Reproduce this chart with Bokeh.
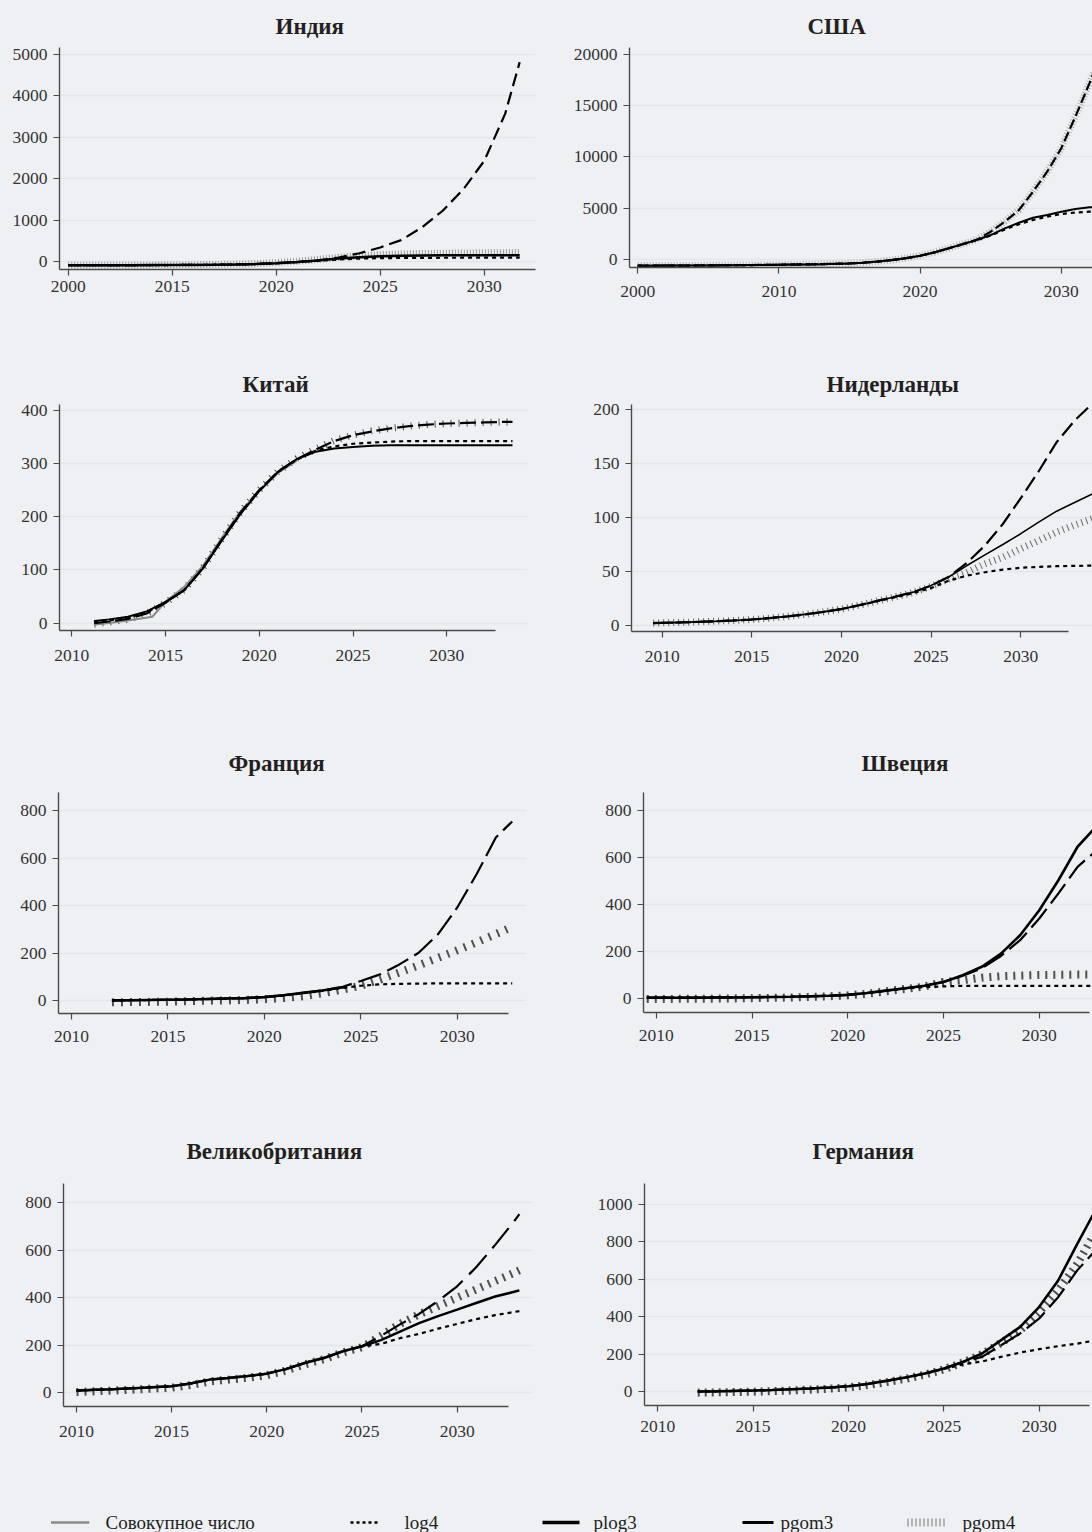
from bokeh.plotting import figure
from bokeh.layouts import column, row
from bokeh.models import FixedTicker, Range1d
from bokeh.embed import file_html
from bokeh.resources import INLINE
from bokeh.core.properties import value

# ---------------- data ----------------
LEGEND_LABELS = ["Совокупное число", "log4", "plog3", "pgom3", "pgom4"]

# India
IN_YEARS = [2010, 2011, 2012, 2013, 2014, 2015, 2016, 2017, 2018, 2019, 2020, 2021,
            2022, 2023, 2024, 2025, 2026, 2027, 2028, 2029, 2030, 2031, 2031.7]
IN_PGOM3 = [-90, -90, -89, -88, -87, -85, -82, -78, -72, -62, -40, -15,
            25, 97, 200, 339, 516, 823, 1226, 1750, 2435, 3565, 4815]
IN_PLOG3 = [-90, -90, -89, -88, -87, -85, -82, -78, -72, -62, -40, -12,
            25, 70, 105, 125, 138, 145, 149, 151, 152, 153, 153]
IN_LOG4 = [-90, -90, -89, -88, -87, -85, -82, -78, -72, -62, -40, -14,
           20, 50, 70, 80, 85, 88, 90, 91, 92, 92, 92]
IN_PGOM4 = [-85, -85, -84, -83, -82, -80, -77, -72, -65, -52, -28, 5,
            50, 100, 140, 165, 180, 192, 200, 206, 210, 214, 216]
IN_ACT_YEARS = [2010, 2011, 2012, 2013, 2014, 2015, 2016, 2017, 2018, 2019, 2020, 2021]
IN_ACTUAL = [-90, -90, -89, -88, -87, -85, -82, -78, -72, -62, -40, -15]
IN_XTICKS = [2010, 2015, 2020, 2025, 2030]
IN_XLABELS = ["2000", "2015", "2020", "2025", "2030"]
IN_YTICKS = [0, 1000, 2000, 3000, 4000, 5000]

# USA
US_YEARS = [2000, 2001, 2002, 2003, 2004, 2005, 2006, 2007, 2008, 2009, 2010, 2011,
            2012, 2013, 2014, 2015, 2016, 2017, 2018, 2019, 2020, 2021, 2022, 2023,
            2024, 2025, 2026, 2027, 2028, 2029, 2030, 2031, 2032, 2032.3]
US_PGOM3 = [-650, -645, -640, -635, -630, -620, -610, -600, -585, -570, -556, -540,
            -520, -495, -465, -425, -350, -240, -98, 90, 327, 650, 1046, 1460,
            1880, 2680, 3660, 4804, 6601, 8562, 10850, 13954, 17222, 18300]
US_PGOM4 = [-640, -636, -632, -627, -621, -612, -602, -592, -578, -563, -549, -533,
            -513, -488, -458, -418, -343, -233, -90, 98, 335, 660, 1056, 1470,
            1890, 2690, 3670, 4815, 6610, 8570, 10860, 13960, 17230, 18300]
US_PLOG3 = [-650, -645, -640, -635, -630, -620, -610, -600, -585, -570, -556, -540,
            -520, -495, -465, -425, -350, -240, -98, 90, 327, 650, 1046, 1450,
            1863, 2353, 3007, 3562, 4052, 4314, 4641, 4902, 5065, 5100]
US_LOG4 = [-650, -645, -640, -635, -630, -620, -610, -600, -585, -570, -556, -540,
           -520, -495, -465, -425, -350, -240, -98, 90, 327, 650, 1040, 1440,
           1840, 2300, 2900, 3420, 3824, 4150, 4412, 4560, 4640, 4660]
US_ACT_YEARS = [2000, 2001, 2002, 2003, 2004, 2005, 2006, 2007, 2008, 2009, 2010, 2011,
                2012, 2013, 2014, 2015, 2016, 2017, 2018, 2019, 2020, 2021, 2022]
US_ACTUAL = [-650, -645, -640, -635, -630, -620, -610, -600, -585, -570, -556, -540,
             -520, -495, -465, -425, -350, -240, -98, 90, 327, 650, 1046]
US_XTICKS = [2000, 2010, 2020, 2030]
US_YTICKS = [0, 5000, 10000, 15000, 20000]

# China
CN_YEARS = [2011.2, 2012, 2013, 2014, 2015, 2016, 2017, 2018, 2019, 2020, 2021, 2022,
            2023, 2024, 2025, 2026, 2027, 2028, 2029, 2030, 2031, 2032, 2033, 2033.5]
CN_PLOG3 = [4, 7, 12, 22, 40, 62, 103, 155, 205, 248, 284, 308,
            322, 328, 331, 333, 334, 334, 334, 334, 334, 334, 334, 334]
CN_LOG4 = [2, 5, 10, 20, 39, 62, 104, 156, 206, 249, 284, 307,
           324, 332, 337, 339, 341, 342, 342, 342, 342, 342, 342, 342]
CN_PGOM3 = [0, 3, 8, 18, 38, 62, 103, 157, 208, 250, 285, 308,
            326, 342, 353, 360, 366, 370, 373, 375, 376, 377, 378, 378]
CN_PGOM4 = [-2, 2, 7, 17, 38, 63, 104, 158, 209, 250, 285, 309,
            327, 343, 353, 361, 366, 370, 373, 375, 376, 377, 378, 378]
CN_ACT_YEARS = [2011.2, 2012, 2013, 2014.3, 2015, 2016, 2017, 2018, 2019, 2020, 2021, 2022]
CN_ACTUAL = [-3, 0, 5, 12, 40, 68, 108, 160, 210, 248, 282, 305]
CN_XTICKS = [2010, 2015, 2020, 2025, 2030]
CN_YTICKS = [0, 100, 200, 300, 400]

# Netherlands
NL_YEARS = [2009.5, 2010, 2011, 2012, 2013, 2014, 2015, 2016, 2017, 2018, 2019, 2020,
            2021, 2022, 2023, 2024, 2025, 2026, 2027, 2028, 2029, 2030, 2031, 2032,
            2033, 2034]
NL_PGOM3 = [2, 2.2, 2.6, 3.1, 3.7, 4.4, 5.3, 6.6, 8.2, 10.1, 12.4, 15,
            18.6, 22.6, 26.5, 30.7, 36.8, 45, 58, 74, 94, 118, 143, 170, 190, 206]
NL_PLOG3 = [2, 2.2, 2.6, 3.1, 3.7, 4.4, 5.3, 6.6, 8.2, 10.1, 12.4, 15,
            18.6, 22.6, 26.5, 30.7, 36.8, 45, 55.4, 65.3, 75, 85, 95.7, 105.9, 114, 122]
NL_PGOM4 = [2, 2.2, 2.6, 3.1, 3.7, 4.4, 5.3, 6.6, 8.2, 10.1, 12.4, 15,
            18.6, 22.5, 26.3, 30.4, 36, 43, 49, 57, 63, 71, 78.6, 86.4, 93, 99]
NL_LOG4 = [2, 2.2, 2.6, 3.1, 3.7, 4.4, 5.3, 6.6, 8.2, 10.1, 12.4, 15,
           18.5, 22.3, 26, 29.8, 34.5, 41.5, 46, 49.2, 51.7, 53.3, 54.2, 54.8, 55.1, 55.4]
NL_ACT_YEARS = [2009.5, 2010, 2011, 2012, 2013, 2014, 2015, 2016, 2017, 2018, 2019, 2020, 2021]
NL_ACTUAL = [2, 2.2, 2.6, 3.1, 3.7, 4.4, 5.3, 6.6, 8.2, 10.1, 12.4, 15, 18.6]
NL_XTICKS = [2010, 2015, 2020, 2025, 2030]
NL_YTICKS = [0, 50, 100, 150, 200]

# France
FR_YEARS = [2012.1, 2013, 2014, 2015, 2016, 2017, 2018, 2019, 2020, 2021, 2022,
            2023, 2024, 2025, 2026, 2027, 2028, 2029, 2030, 2031, 2032, 2032.85]
FR_PGOM3 = [0, 1, 2, 3, 4, 6, 8, 10, 14, 22, 32,
            42, 56, 82, 110, 152, 201, 279, 392, 532, 687, 755]
FR_LOG4 = [0, 1, 2, 3, 4, 6, 8, 10, 14, 21, 30,
           40, 52, 62, 68, 70, 71, 72, 72, 72, 72, 72]
FR_PGOM4 = [-8, -7, -6, -5, -3, -1, 0, 2, 5, 10, 18,
            30, 45, 62, 88, 118, 148, 180, 212, 245, 280, 310]
FR_PLOG3_YEARS = [2012.1, 2013, 2014, 2015, 2016, 2017, 2018, 2019, 2020, 2021, 2022,
                  2023, 2024, 2024.2]
FR_PLOG3 = [0, 1, 2, 3, 4, 6, 8, 10, 14, 22, 32, 42, 55, 57]
FR_ACT_YEARS = [2012.1, 2013, 2014, 2015, 2016, 2017, 2018, 2019, 2020, 2021, 2022]
FR_ACTUAL = [0, 1, 2, 3, 4, 6, 8, 10, 14, 22, 32]
FR_XTICKS = [2010, 2015, 2020, 2025, 2030]
FR_YTICKS = [0, 200, 400, 600, 800]

# Sweden
SE_YEARS = [2009.5, 2010, 2011, 2012, 2013, 2014, 2015, 2016, 2017, 2018, 2019, 2020,
            2021, 2022, 2023, 2024, 2025, 2026, 2027, 2028, 2029, 2030, 2031, 2032, 2032.8]
SE_PLOG3 = [5, 5, 5, 5, 6, 6, 7, 8, 9, 11, 13, 17,
            25, 35, 45, 56, 72, 100, 136, 192, 270, 376, 503, 645, 715]
SE_PGOM3 = [5, 5, 5, 5, 6, 6, 7, 8, 9, 11, 13, 17,
            25, 35, 45, 56, 72, 98, 130, 182, 249, 341, 447, 560, 616]
SE_PGOM4 = [0, 0, 0, 1, 1, 2, 3, 4, 6, 8, 11, 15,
            22, 32, 42, 52, 72, 79, 90, 96, 99, 101, 102, 103, 103]
SE_LOG4 = [5, 5, 5, 5, 6, 6, 7, 8, 9, 11, 13, 17,
           25, 35, 44, 50, 53, 55, 55, 55, 55, 55, 55, 55, 55]
SE_ACT_YEARS = [2009.5, 2010, 2011, 2012, 2013, 2014, 2015, 2016, 2017, 2018, 2019,
                2020, 2021, 2022]
SE_ACTUAL = [5, 5, 5, 5, 6, 6, 7, 8, 9, 11, 13, 17, 25, 35]
SE_XTICKS = [2010, 2015, 2020, 2025, 2030]
SE_YTICKS = [0, 200, 400, 600, 800]

# United Kingdom
UK_YEARS = [2010, 2011, 2012, 2013, 2014, 2015, 2016, 2017, 2018, 2019, 2020, 2021,
            2022, 2023, 2024, 2025, 2026, 2027, 2028, 2029, 2030, 2031, 2032, 2033, 2033.27]
UK_PGOM3 = [10, 13, 16, 20, 24, 28, 40, 56, 63, 71, 81, 100,
            126, 147, 175, 196, 240, 288, 332, 386, 448, 528, 622, 722, 751]
UK_PLOG3 = [10, 13, 16, 20, 24, 28, 40, 56, 63, 71, 81, 100,
            126, 147, 175, 196, 222, 258, 293, 323, 350, 378, 405, 425, 431]
UK_LOG4 = [10, 13, 16, 20, 24, 28, 40, 56, 63, 71, 81, 100,
           126, 147, 175, 196, 206, 230, 248, 270, 290, 310, 327, 340, 344]
UK_PGOM4 = [4, 7, 10, 14, 18, 22, 33, 48, 56, 64, 74, 94,
            120, 142, 170, 192, 240, 290, 330, 365, 400, 435, 470, 505, 515]
UK_ACT_YEARS = [2010, 2011, 2012, 2013, 2014, 2015, 2016, 2017, 2018, 2019, 2020, 2021,
                2022, 2023]
UK_ACTUAL = [10, 13, 16, 20, 24, 28, 40, 56, 63, 71, 81, 100, 128, 150]
UK_XTICKS = [2010, 2015, 2020, 2025, 2030]
UK_YTICKS = [0, 200, 400, 600, 800]

# Germany
DE_YEARS = [2012.1, 2013, 2014, 2015, 2016, 2017, 2018, 2019, 2020, 2021, 2022,
            2023, 2024, 2025, 2026, 2027, 2028, 2029, 2030, 2031, 2032, 2032.8]
DE_PLOG3 = [0, 1, 3, 5, 8, 12, 16, 21, 28, 40, 57,
            75, 96, 123, 158, 203, 274, 345, 452, 594, 790, 941]
DE_PGOM4 = [-6, -5, -3, -1, 2, 6, 10, 15, 22, 34, 50,
            68, 90, 118, 155, 199, 260, 327, 425, 541, 683, 826]
DE_PGOM3 = [0, 1, 3, 5, 8, 12, 16, 21, 28, 40, 57,
            75, 96, 123, 158, 185, 247, 310, 390, 505, 648, 737]
DE_LOG4 = [0, 1, 3, 5, 8, 12, 16, 21, 28, 40, 57,
           75, 95, 120, 145, 160, 185, 208, 226, 242, 256, 270]
DE_ACT_YEARS = [2012.1, 2013, 2014, 2015, 2016, 2017, 2018, 2019, 2020, 2021, 2022]
DE_ACTUAL = [0, 1, 3, 5, 8, 12, 16, 21, 28, 42, 60]
DE_XTICKS = [2010, 2015, 2020, 2025, 2030]
DE_YTICKS = [0, 200, 400, 600, 800, 1000]

# ---------------- style ----------------
BG = "#eef0f4"
GRID = "#e0e8e9"
FONT = "Liberation Serif"
INK = "#231f20"
AXIS = "#4a4a4a"
GRAY = "#8a8a8a"
DARK_HATCH = "#505050"


def panel(title, box, frame, xr, yr, xaxis_end, xticks, yticks, tleft, tstand, xstand,
          years, log4, plog3, pgom3, pgom4, act_years, actual,
          plog3_years=None, hatch_dash="1 4", hatch_color="#666666", hatch_width=7,
          dash="20 7", solid_width=2, xlabels=None):
    cl, cr, rt, rb = box
    L, R, T, B = frame
    mbl = round(L - cl)
    fw = round(R - L)
    mbr = (cr - cl) - mbl - fw
    mbt = round(T - rt)
    fh = round(B - T)
    mbb = (rb - rt) - mbt - fh
    p = figure(frame_width=fw, frame_height=fh,
               x_range=Range1d(*xr), y_range=Range1d(*yr),
               output_backend="svg", toolbar_location=None,
               min_border_left=mbl, min_border_right=mbr,
               min_border_top=mbt, min_border_bottom=mbb,
               background_fill_color=BG, border_fill_color=BG,
               outline_line_color=None)
    p.title.text = title
    p.title.text_font = FONT
    p.title.text_font_style = "bold"
    p.title.text_font_size = "23px"
    p.title.text_color = INK
    p.title.align = "left"
    p.title.offset = round(tleft - L)
    p.title.standoff = tstand

    for ax in (p.xaxis[0], p.yaxis[0]):
        ax.major_label_text_font = FONT
        ax.major_label_text_font_size = "17.5px"
        ax.major_label_text_color = "#333333"
        ax.minor_tick_line_color = None
        ax.major_tick_out = 6
        ax.major_tick_in = 0
        ax.axis_line_color = AXIS
        ax.axis_line_width = 1.4
        ax.major_tick_line_color = AXIS
        ax.major_tick_line_width = 1.2
    p.xaxis.ticker = FixedTicker(ticks=xticks)
    p.yaxis.ticker = FixedTicker(ticks=yticks)
    p.xaxis.bounds = (xr[0], xaxis_end)
    p.xaxis.major_label_standoff = xstand
    p.yaxis.major_label_standoff = 6
    if xlabels is not None:
        p.xaxis.major_label_overrides = {t: s for t, s in zip(xticks, xlabels)}
    p.xgrid.visible = False
    p.ygrid.grid_line_color = GRID
    p.ygrid.grid_line_width = 1.5

    p.line(years, pgom4, line_color=hatch_color, line_width=hatch_width, line_dash=hatch_dash)
    p.line(act_years, actual, line_color=GRAY, line_width=2)
    p.line(years, log4, line_color="black", line_width=2.2, line_dash="4 4")
    p.line(plog3_years if plog3_years is not None else years, plog3,
           line_color="black", line_width=solid_width)
    p.line(years, pgom3, line_color="black", line_width=2.2, line_dash=dash)
    return p


LEFT = (0, 546)
RIGHT = (546, 1092)
R1, R2, R3, R4 = (0, 350), (350, 725), (725, 1110), (1110, 1478)

p_in = panel("Индия", LEFT + R1, (59.2, 535, 47, 268.7), (2009.58, 2032.46), (-193.5, 5169),
             2032.46, IN_XTICKS, IN_YTICKS, 275, 18, 5,
             IN_YEARS, IN_LOG4, IN_PLOG3, IN_PGOM3, IN_PGOM4, IN_ACT_YEARS, IN_ACTUAL,
             hatch_dash="1 2", hatch_color="#9a9a9a", dash="13 6", solid_width=2.5,
             xlabels=IN_XLABELS)
p_us = panel("США", RIGHT + R1, (629, 1092, 46, 265.7), (1999.42, 2032.21), (-824, 20716),
             2032.21, US_XTICKS, US_YTICKS, 807, 18, 12,
             US_YEARS, US_LOG4, US_PLOG3, US_PGOM3, US_PGOM4, US_ACT_YEARS, US_ACTUAL,
             hatch_dash="1 2", hatch_color="#b0b0b0", dash="10 4")
p_cn = panel("Китай", LEFT + R2, (59.2, 527.5, 404.3, 630.7), (2009.35, 2034.3), (-13.9, 410.7),
             2032.57, CN_XTICKS, CN_YTICKS, 242, 16, 13,
             CN_YEARS, CN_LOG4, CN_PLOG3, CN_PGOM3, CN_PGOM4, CN_ACT_YEARS, CN_ACTUAL,
             hatch_dash="1 7", hatch_color=DARK_HATCH, dash="16 5")
p_nl = panel("Нидерланды", RIGHT + R2, (631.3, 1092, 402.3, 629.3), (2008.29, 2034.0), (-5.85, 205),
             2032.68, NL_XTICKS, NL_YTICKS, 826, 16, 13,
             NL_YEARS, NL_LOG4, NL_PLOG3, NL_PGOM3, NL_PGOM4, NL_ACT_YEARS, NL_ACTUAL,
             hatch_dash="1 4", hatch_color="#6a6a6a", dash="16 6", solid_width=1.6)
p_fr = panel("Франция", LEFT + R3, (57.8, 525.8, 791.7, 1012.3), (2009.33, 2033.59), (-55, 877),
             2032.65, FR_XTICKS, FR_YTICKS, 228, 33, 11,
             FR_YEARS, FR_LOG4, FR_PLOG3, FR_PGOM3, FR_PGOM4, FR_ACT_YEARS, FR_ACTUAL,
             plog3_years=FR_PLOG3_YEARS, hatch_dash="2 7", hatch_color=DARK_HATCH,
             hatch_width=8, dash="24 7", solid_width=2.6)
p_se = panel("Швеция", RIGHT + R3, (642.8, 1092, 792.3, 1012.3), (2009.33, 2032.78), (-57.7, 875),
             2032.64, SE_XTICKS, SE_YTICKS, 861, 33, 11,
             SE_YEARS, SE_LOG4, SE_PLOG3, SE_PGOM3, SE_PGOM4, SE_ACT_YEARS, SE_ACTUAL,
             hatch_dash="2 6", hatch_color=DARK_HATCH, hatch_width=8, dash="24 7",
             solid_width=2.6)
p_uk = panel("Великобритания", LEFT + R4, (62.7, 532, 1182.7, 1405.3), (2009.32, 2033.96), (-57, 880),
             2032.68, UK_XTICKS, UK_YTICKS, 186, 40, 13,
             UK_YEARS, UK_LOG4, UK_PLOG3, UK_PGOM3, UK_PGOM4, UK_ACT_YEARS, UK_ACTUAL,
             hatch_dash="2 6", hatch_color=DARK_HATCH, hatch_width=8, dash="26 9",
             solid_width=2.5)
p_de = panel("Германия", RIGHT + R4, (644.2, 1092, 1183.3, 1405.3), (2009.31, 2032.79), (-74.7, 1110.5),
             2032.64, DE_XTICKS, DE_YTICKS, 812, 40, 9,
             DE_YEARS, DE_LOG4, DE_PLOG3, DE_PGOM3, DE_PGOM4, DE_ACT_YEARS, DE_ACTUAL,
             hatch_dash="2 5", hatch_color=DARK_HATCH, hatch_width=8, dash="24 7",
             solid_width=2.6)

# ---------------- legend strip ----------------
lg = figure(width=1092, height=54, x_range=Range1d(0, 1092), y_range=Range1d(0, 54),
            output_backend="svg", toolbar_location=None, min_border=0,
            background_fill_color=BG, border_fill_color=BG, outline_line_color=None)
lg.axis.visible = False
lg.grid.visible = False
LY = 10
lg.line([50.5, 88.8], [LY, LY], line_color=GRAY, line_width=2.5)
lg.line([350, 379.5], [LY, LY], line_color="black", line_width=2.5, line_dash="3 3")
lg.line([542, 579], [LY, LY], line_color="black", line_width=3.5)
lg.line([742, 773], [LY, LY], line_color="black", line_width=3)
lg.line([907, 947], [LY, LY], line_color="#777777", line_width=8, line_dash="1 3")
lg.text(x=[105, 404, 593, 780, 962], y=[LY] * 5, text=LEGEND_LABELS,
        text_font=value(FONT), text_font_size="19px", text_baseline="middle",
        text_color=INK)

BGSTYLE = {"background-color": BG}
layout = column(row(p_in, p_us, spacing=0, styles=BGSTYLE),
                row(p_cn, p_nl, spacing=0, styles=BGSTYLE),
                row(p_fr, p_se, spacing=0, styles=BGSTYLE),
                row(p_uk, p_de, spacing=0, styles=BGSTYLE),
                lg, spacing=0, styles=BGSTYLE)

open("out.html", "w").write(file_html(layout, INLINE))
